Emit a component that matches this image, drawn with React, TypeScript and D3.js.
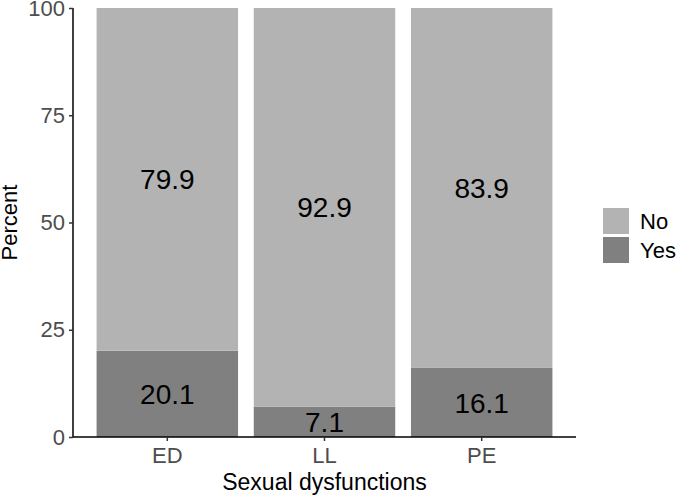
import { useEffect, useRef } from 'react';
import * as d3 from 'd3';

const categories = ['ED', 'LL', 'PE'];
const yesValues = [20.1, 7.1, 16.1];
const noValues = [79.9, 92.9, 83.9];
const yTicks = [0, 25, 50, 75, 100];
const legendLabels = ['No', 'Yes'];

const colors: Record<string, string> = { No: '#b3b3b3', Yes: '#808080' };

export default function App() {
  const ref = useRef<SVGSVGElement>(null);

  useEffect(() => {
    if (!ref.current) return;
    const svg = d3.select(ref.current);
    svg.selectAll('*').remove();

    const font = 'Liberation Sans, Arial, sans-serif';
    const left = 73;
    const right = 576;
    const top = 8;
    const bottom = 437;

    const x = d3.scaleBand()
      .domain(categories)
      .range([left, right])
      .paddingInner(0.1)
      .paddingOuter(0.15);

    const y = d3.scaleLinear().domain([0, 100]).range([bottom, top]);

    // stacked rows: Yes at bottom, No on top
    const rows = categories.map((c, i) => ({ cat: c, Yes: yesValues[i], No: noValues[i] }));
    const stack = d3.stack<any>().keys(['Yes', 'No'])(rows);

    const g = svg.append('g');
    stack.forEach(layer => {
      g.selectAll(`.bar-${layer.key}`)
        .data(layer)
        .enter()
        .append('rect')
        .attr('x', d => x(d.data.cat) || 0)
        .attr('width', x.bandwidth())
        .attr('y', d => y(d[1]))
        .attr('height', d => y(d[0]) - y(d[1]))
        .attr('fill', colors[layer.key]);

      g.selectAll(`.lab-${layer.key}`)
        .data(layer)
        .enter()
        .append('text')
        .attr('x', d => (x(d.data.cat) || 0) + x.bandwidth() / 2)
        .attr('y', d => y((d[0] + d[1]) / 2))
        .attr('dy', '0.36em')
        .attr('text-anchor', 'middle')
        .attr('font-family', font)
        .attr('font-size', 28)
        .attr('fill', '#000')
        .text(d => String(d.data[layer.key]));
    });

    // Y axis
    const yAxis = svg.append('g')
      .attr('transform', `translate(${left},0)`)
      .call(d3.axisLeft(y).tickValues(yTicks).tickSize(4).tickPadding(4));
    yAxis.select('.domain').attr('stroke', '#000').attr('stroke-width', 1.5).attr('d', `M0,${top}V${bottom}`);
    yAxis.selectAll('.tick line').attr('stroke', '#333').attr('stroke-width', 1.5);
    yAxis.selectAll('.tick text')
      .attr('font-family', font)
      .attr('font-size', 22)
      .attr('fill', '#4d4d4d');

    // X axis
    const xAxis = svg.append('g')
      .attr('transform', `translate(0,${bottom})`)
      .call(d3.axisBottom(x).tickSize(4).tickPadding(6));
    xAxis.select('.domain').attr('stroke', '#000').attr('stroke-width', 1.5).attr('d', `M${left},0H${right}`);
    xAxis.selectAll('.tick line').attr('stroke', '#333').attr('stroke-width', 1.5);
    xAxis.selectAll('.tick text')
      .attr('font-family', font)
      .attr('font-size', 22)
      .attr('fill', '#4d4d4d');

    // Axis titles
    svg.append('text')
      .attr('x', (left + right) / 2)
      .attr('y', 490)
      .attr('text-anchor', 'middle')
      .attr('font-family', font)
      .attr('font-size', 23)
      .text('Sexual dysfunctions');

    svg.append('text')
      .attr('transform', `translate(17,${(top + bottom) / 2}) rotate(-90)`)
      .attr('text-anchor', 'middle')
      .attr('font-family', font)
      .attr('font-size', 22)
      .text('Percent');

    // Legend
    const legend = svg.append('g').attr('transform', 'translate(603,208)');
    legendLabels.forEach((lab, i) => {
      legend.append('rect')
        .attr('x', 0)
        .attr('y', i * 29)
        .attr('width', 26)
        .attr('height', 26)
        .attr('fill', colors[lab]);
      legend.append('text')
        .attr('x', 37)
        .attr('y', i * 29 + 13)
        .attr('dy', '0.36em')
        .attr('font-family', font)
        .attr('font-size', 22)
        .text(lab);
    });
  }, []);

  return (
    <div style={{ position: 'absolute', left: 0, top: 0 }}>
      <svg ref={ref} width={680} height={497} style={{ display: 'block', background: '#fff' }} />
    </div>
  );
}
